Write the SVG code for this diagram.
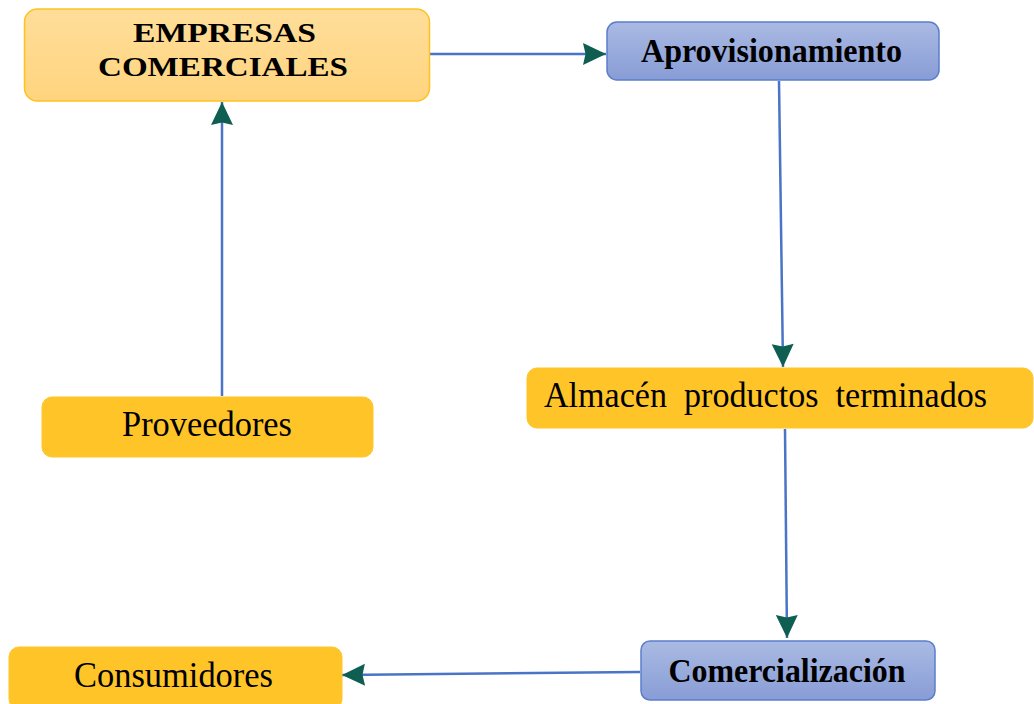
<svg xmlns="http://www.w3.org/2000/svg" width="1034" height="704" viewBox="0 0 1034 704">
  <defs>
    <linearGradient id="gOrange" x1="0" y1="0" x2="0" y2="1">
      <stop offset="0" stop-color="#FFDE9A"/>
      <stop offset="1" stop-color="#FFD47E"/>
    </linearGradient>
    <linearGradient id="gBlue" x1="0" y1="0" x2="0" y2="1">
      <stop offset="0" stop-color="#AABAE3"/>
      <stop offset="1" stop-color="#889DD6"/>
    </linearGradient>
    <marker id="arr" markerUnits="userSpaceOnUse" markerWidth="28" markerHeight="28" viewBox="-26 -14 28 28" refX="0" refY="0" orient="auto">
      <path d="M0,0 L-23,-11 L-20.5,0 L-23,11 Z" fill="#0F5E52"/>
    </marker>
  </defs>
  <style>
    .conn { stroke: #4A74C6; stroke-width: 2.5; fill: none; }
    .orange { fill: url(#gOrange); stroke: #FFC21F; stroke-width: 1.5; }
    .blue { fill: url(#gBlue); stroke: #5B7ECB; stroke-width: 1.5; }
    .yellow { fill: #FFC528; stroke: #FFC528; stroke-width: 1; }
    .tb { font-family: "Liberation Serif", "Times New Roman", serif; font-weight: bold; fill: #000; }
    .tr { font-family: "Liberation Serif", "Times New Roman", serif; fill: #000; }
  </style>
  <rect width="1034" height="704" fill="#FFFFFF"/>

  <g id="connectors">
    <line class="conn" x1="430" y1="54" x2="606" y2="54" marker-end="url(#arr)"/>
    <line class="conn" x1="222" y1="396" x2="222" y2="102" marker-end="url(#arr)"/>
    <line class="conn" x1="779" y1="81" x2="783" y2="367" marker-end="url(#arr)"/>
    <line class="conn" x1="785" y1="429" x2="787" y2="638" marker-end="url(#arr)"/>
    <line class="conn" x1="640" y1="672" x2="342" y2="675" marker-end="url(#arr)"/>
  </g>

  <g id="node-empresas">
    <rect class="orange" x="24.5" y="9" width="405" height="92" rx="13"/>
    <text class="tb" x="224.5" y="42" font-size="28" text-anchor="middle" textLength="183" lengthAdjust="spacingAndGlyphs">EMPRESAS</text>
    <text class="tb" x="223" y="76" font-size="28" text-anchor="middle" textLength="250" lengthAdjust="spacingAndGlyphs">COMERCIALES</text>
  </g>

  <g id="node-aprovisionamiento">
    <rect class="blue" x="607" y="22" width="332" height="58" rx="10"/>
    <text class="tb" x="771.5" y="62" font-size="34" text-anchor="middle" textLength="261" lengthAdjust="spacingAndGlyphs">Aprovisionamiento</text>
  </g>

  <g id="node-proveedores">
    <rect class="yellow" x="42" y="397" width="331" height="60" rx="10"/>
    <text class="tr" x="207" y="436" font-size="35" text-anchor="middle" textLength="170" lengthAdjust="spacingAndGlyphs">Proveedores</text>
  </g>

  <g id="node-almacen">
    <rect class="yellow" x="527" y="368" width="506" height="60" rx="10"/>
    <text class="tr" x="544" y="407" font-size="35" textLength="443" lengthAdjust="spacingAndGlyphs" xml:space="preserve">Almacén  productos  terminados</text>
  </g>

  <g id="node-comercializacion">
    <rect class="blue" x="641" y="641" width="294" height="59" rx="9"/>
    <text class="tb" x="787" y="682" font-size="34" text-anchor="middle" textLength="237" lengthAdjust="spacingAndGlyphs">Comercialización</text>
  </g>

  <g id="node-consumidores">
    <rect class="yellow" x="9" y="647" width="333" height="62" rx="10"/>
    <text class="tr" x="173.5" y="687" font-size="35" text-anchor="middle" textLength="199" lengthAdjust="spacingAndGlyphs">Consumidores</text>
  </g>
</svg>
